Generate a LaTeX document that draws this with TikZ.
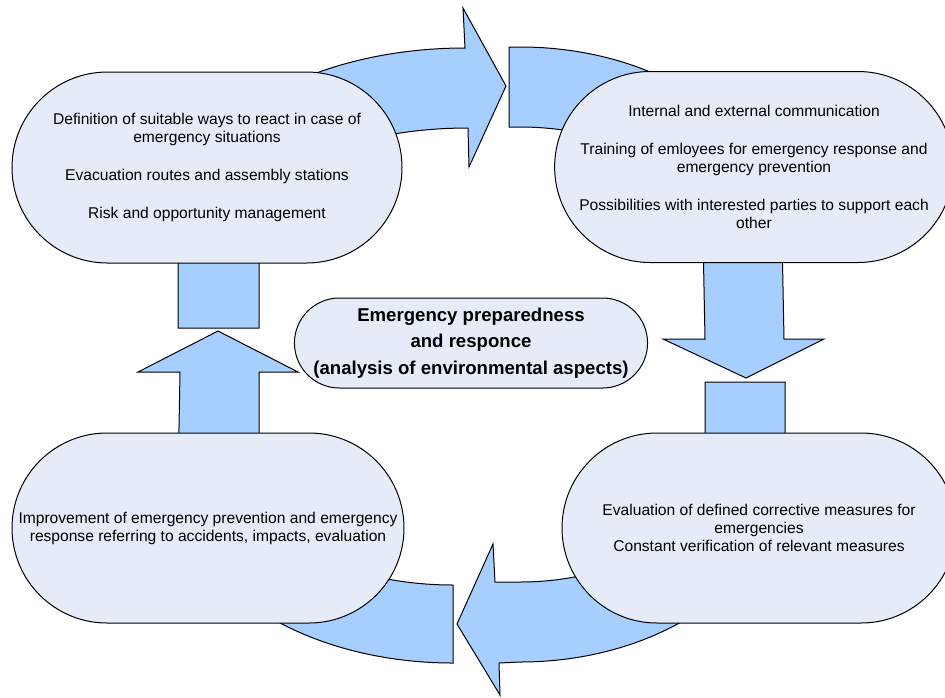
\documentclass[tikz,border=0pt]{standalone}
\usepackage{fontspec}
\setmainfont{Liberation Sans}
\usetikzlibrary{shapes.misc}
\definecolor{arrowblue}{RGB}{166,206,255}
\definecolor{bubblefill}{RGB}{230,236,247}
\tikzset{
  blockarrow/.style={fill=arrowblue, draw=black, line width=1pt, line join=miter},
  bubble/.style={rounded rectangle, draw=black, fill=bubblefill, line width=1pt,
    align=center, inner sep=2pt, font=\fontsize{15.6}{18}\selectfont},
  hub/.style={rounded rectangle, draw=black, fill=bubblefill, line width=1pt,
    align=center, inner sep=2pt, font=\fontsize{18.6}{26.5}\selectfont\bfseries}
}
\begin{document}
\begin{tikzpicture}[x=1pt, y=-1pt]
\useasboundingbox (0,0) rectangle (945,697);
\fill[white] (0,0) rectangle (945,697);
% arrow A: left column up, curving right
\path[blockarrow] (178,328) -- (178,221) .. controls (178,125.5) and (306.6,48) .. (465,48)
  -- (463,8) -- (506,86) -- (469,167) -- (468,128)
  .. controls (352.6,128) and (259,169.7) .. (259,221) -- (259,328) -- cycle;
% arrow B: top right, curving down
\path[blockarrow] (509,47) -- (520,47) .. controls (664.6,47) and (782,131.7) .. (782,236)
  -- (784,339) -- (824,339) -- (746,378) -- (663,339) -- (705,339) -- (703,236)
  .. controls (703,175.8) and (621,127) .. (520,127) -- (509,127) -- cycle;
% arrow C: right column down, curving left
\path[blockarrow] (785,382) -- (785,468) .. controls (785,575.1) and (666.3,662) .. (520,662)
  -- (499,663) -- (500,695) -- (457,624) -- (493,544) -- (495,582) -- (520,582)
  .. controls (622.1,582) and (705,530.9) .. (705,468) -- (705,382) -- cycle;
% arrow D: bottom left, curving up
\path[blockarrow] (453,663) .. controls (301.2,663) and (178,582.4) .. (178,483)
  -- (180,372) -- (138,372) -- (218,331) -- (298,372) -- (259,372) -- (259,483)
  .. controls (259,539.3) and (345.9,585) .. (453,585) -- cycle;
% nodes
\node[bubble, minimum width=394, minimum height=191] (tl) at (207,167.5)
  {Definition of suitable ways to react in case of\\ emergency situations\\[20pt]
   Evacuation routes and assembly stations\\[20pt] Risk and opportunity management};
\node[bubble, minimum width=394, minimum height=191] (tr) at (754,167)
  {Internal and external communication\\[20pt]
   Training of emloyees for emergency response and\\ emergency prevention\\[20pt]
   Possibilities with interested parties to support each\\ other};
\node[bubble, minimum width=396, minimum height=190] (bl) at (208,528)
  {Improvement of emergency prevention and emergency\\ response referring to accidents, impacts, evaluation};
\node[bubble, minimum width=398, minimum height=190] (br) at (759,528)
  {Evaluation of defined corrective measures for\\ emergencies\\ Constant verification of relevant measures};
\node[hub, minimum width=350, minimum height=90] (hub) at (471,343)
  {Emergency preparedness\\ and responce\\ (analysis of environmental aspects)};
\end{tikzpicture}
\end{document}
